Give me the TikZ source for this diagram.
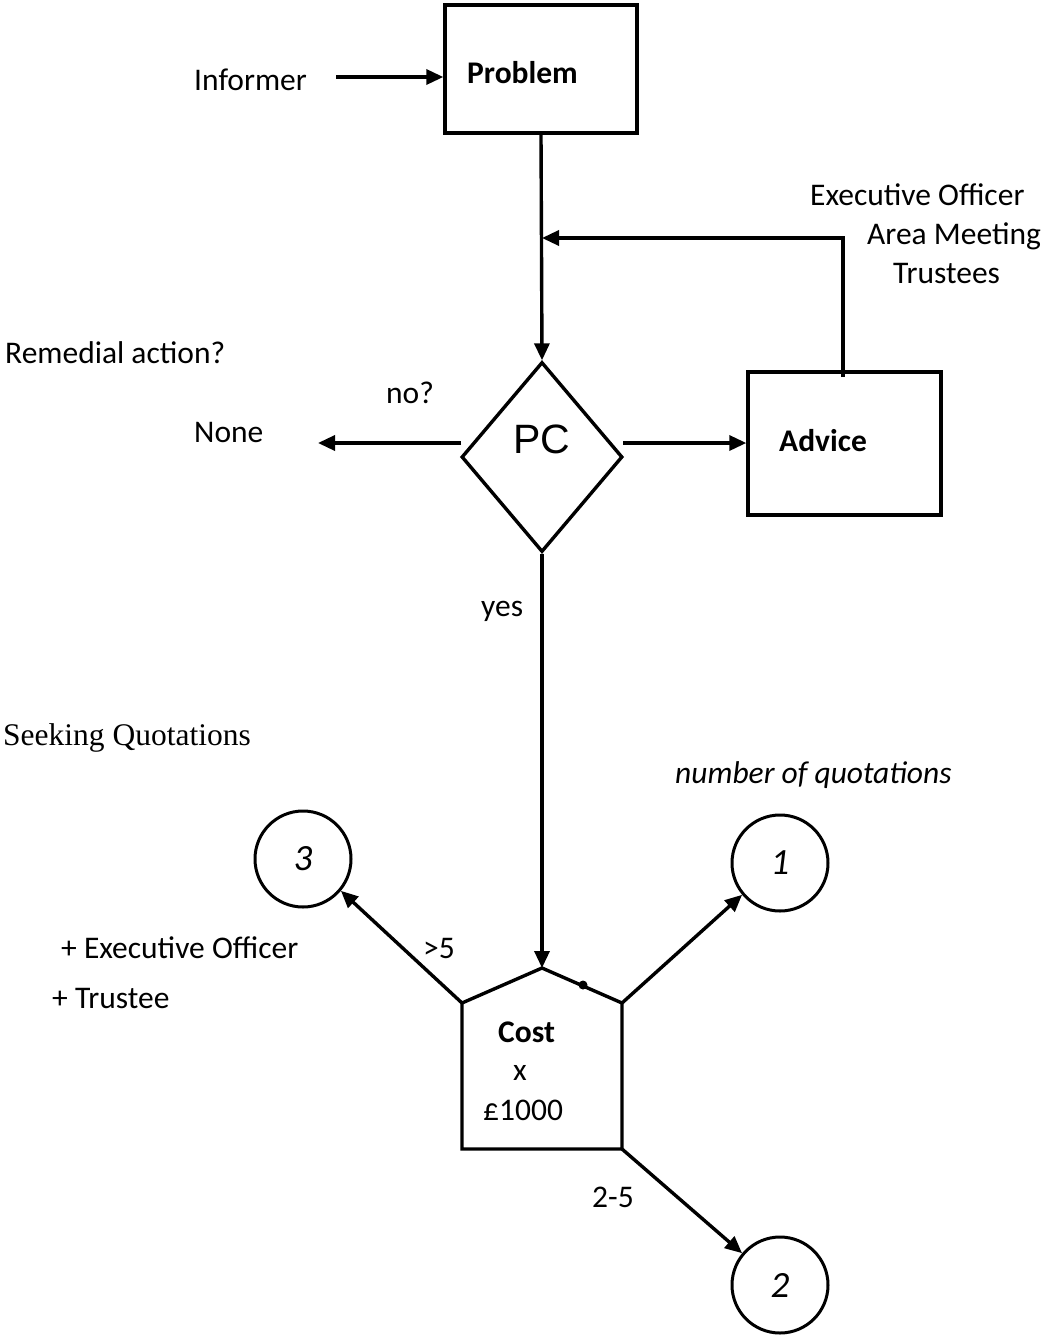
\documentclass[tikz,border=0pt]{standalone}
\usepackage{fontspec}
\setmainfont{Carlito}
\newfontfamily\serifq{Liberation Serif}
\newfontfamily\arialf{Liberation Sans}
\usetikzlibrary{arrows.meta,shapes.geometric}
\begin{document}
\begin{tikzpicture}[x=1pt,y=-1pt,
  every node/.style={font=\fontsize{31.5}{38}\selectfont, inner sep=0pt},
  ln/.style={line width=3.4pt, line join=miter},
  arr/.style={ln, -{Triangle[length=17pt,width=15pt]}},
  boxnode/.style={draw, line width=3.4pt, rectangle},
  qcircle/.style={draw, line width=3pt, circle, minimum size=96pt, font=\fontsize{37}{44}\selectfont\itshape},
  lbl/.style={anchor=base west}]
\useasboundingbox (0,0) rectangle (1043,1336);

% boxes
\node[boxnode, minimum width=192pt, minimum height=128pt] (prob) at (541,69) {};
\node[lbl, font=\fontsize{31.5}{38}\selectfont\bfseries] (probtxt) at (467,83) {Problem};
\node[boxnode, minimum width=193pt, minimum height=143pt] (adv) at (844.5,443.5) {};
\node[lbl, font=\fontsize{31.5}{38}\selectfont\bfseries] (advtxt) at (779,451) {Advice};

% decision
\node[draw, line width=3.4pt, diamond, minimum width=161pt, minimum height=190pt] (pc) at (542,457) {};
\node[anchor=base, font=\fontsize{41}{47}\selectfont\arialf] (pctxt) at (542,453) {PC};

% house shape
\coordinate (hApex) at (542,968);
\coordinate (hL) at (462,1003);
\coordinate (hR) at (622,1003);
\coordinate (hBL) at (462,1149);
\coordinate (hBR) at (622,1149);
\draw[ln] (hApex) -- (hR) -- (hBR) -- (hBL) -- (hL) -- cycle;
\fill (583,985) circle (4.5);
\node[lbl, font=\fontsize{31.5}{38}\selectfont\bfseries] (costtxt) at (498,1042) {Cost};
\node[lbl] (xtxt) at (513,1080) {x};
\node[lbl] (pricetxt) at (483,1120) {£1000};

% circles
\node[qcircle] (c3) at (303,859) {3};
\node[qcircle] (c1) at (780,863) {1};
\node[qcircle] (c2) at (780,1285) {2};

% texts
\node[lbl] (informer) at (194,90) {Informer};
\node[lbl] (eo) at (810,205) {Executive Officer};
\node[lbl] (am) at (867,244) {Area Meeting};
\node[lbl] (tr) at (893,283) {Trustees};
\node[lbl] (rem) at (5,363) {Remedial action?};
\node[lbl] (no) at (386,403) {no?};
\node[lbl] (none) at (194,442) {None};
\node[lbl] (yes) at (481,616) {yes};
\node[lbl, font=\fontsize{31.5}{38}\selectfont\serifq] (seek) at (3,745) {Seeking Quotations};
\node[lbl, font=\fontsize{31.5}{38}\selectfont\itshape] (numq) at (675,783) {number of quotations};
\node[lbl] (gt5) at (423,958) {>5};
\node[lbl] (pe) at (61,958) {+ Executive Officer};
\node[lbl] (pt) at (52,1008) {+ Trustee};
\node[lbl] (r25) at (592,1207) {2-5};

% connectors
\coordinate (infS) at (336,77);
\draw[arr] (infS) -- (infS -| prob.west);
\draw[arr] (prob.south) -- (pc.north);
\coordinate (fbS) at (843,377);
\coordinate (fbE) at (542,238);
\draw[arr] (fbS) |- (fbE);
\coordinate (noS) at (461,443);
\coordinate (noE) at (318,443);
\draw[arr] (noS) -- (noE);
\coordinate (advS) at (623,443);
\draw[arr] (advS) -- (advS -| adv.west);
\draw[arr] (pc.south) -- (hApex);
\draw[arr] (hL) -- (c3.-40);
\draw[arr] (hR) -- (c1.220);
\draw[arr] (hBR) -- (c2.140);
\end{tikzpicture}
\end{document}
